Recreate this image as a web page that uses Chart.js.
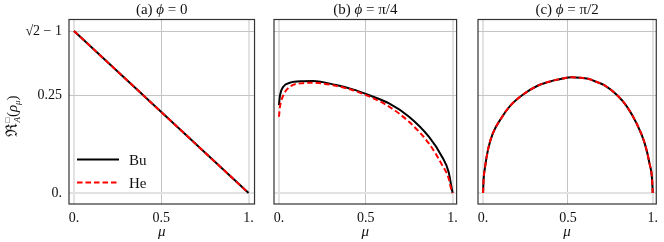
<!DOCTYPE html>
<html>
<head>
<meta charset="utf-8">
<script src="https://cdn.jsdelivr.net/npm/chart.js@4.4.1/dist/chart.umd.min.js"></script>
<style>
html, body { margin: 0; padding: 0; background: #fff; }
#wrap { position: relative; width: 664px; height: 242px; overflow: hidden; }
canvas { position: absolute; top: 0; }
</style>
</head>
<body>
<div id="wrap">
  <canvas id="panel_a" style="left:0px" width="260" height="242"></canvas>
  <canvas id="panel_b" style="left:260px" width="204" height="242"></canvas>
  <canvas id="panel_c" style="left:464px" width="200" height="242"></canvas>
</div>
<script>
// tick values and labels
const xTicks = [0, 0.5, 1];
const xTickLabels = ["0.", "0.5", "1."];
const yTicks = [0, 0.25, Math.SQRT2 - 1];
const yTickLabels = ["0.", "0.25", "\u221A2 \u2212 1"];

// (a) phi = 0
const muA = [0, 1];
const buA = [0.4142, 0];
const heA = [0.4142, 0];

// (b) phi = pi/4
const muB = [0, 0.006, 0.025, 0.063, 0.139, 0.196, 0.33, 0.425, 0.52, 0.634, 0.749, 0.863, 0.939, 0.977, 0.993, 1];
const buB = [0.225, 0.25, 0.272, 0.282, 0.286, 0.2865, 0.276, 0.265, 0.25, 0.229, 0.195, 0.144, 0.093, 0.054, 0.016, 0];
const heB = [0.195, 0.221, 0.25, 0.272, 0.281, 0.282, 0.274, 0.263, 0.247, 0.221, 0.182, 0.127, 0.072, 0.038, 0.008, 0];

// (c) phi = pi/2
const muC = [0, 0.003, 0.01, 0.03, 0.057, 0.105, 0.162, 0.23, 0.324, 0.419, 0.47, 0.52, 0.57, 0.619, 0.67, 0.714, 0.791, 0.848, 0.905, 0.953, 0.981, 0.997, 1];
const buC = [0, 0.035, 0.062, 0.113, 0.152, 0.19, 0.224, 0.25, 0.275, 0.288, 0.293, 0.296, 0.295, 0.292, 0.284, 0.276, 0.25, 0.221, 0.178, 0.127, 0.076, 0.03, 0];
const heC = buC.slice();

const serif = '"Liberation Serif", "DejaVu Serif", serif';

function pts(xs, ys) {
	return xs.map((x, i) => ({x: x, y: ys[i]}));
}

// draw a row of text pieces {t, size, italic, dy, stack}
// a piece with stack:true does not move the pen (for super/sub pairs)
function draw_parts(ctx, parts, x, y, align) {
	let w = 0;
	parts.forEach(p => {
		ctx.font = (p.italic ? 'italic ' : '') + p.size + 'px ' + serif;
		p.w = ctx.measureText(p.t).width;
		if (!p.stack) w += p.w;
	});
	let cx = align == 'center' ? x - w / 2 : x;
	ctx.textBaseline = 'alphabetic';
	ctx.textAlign = 'left';
	parts.forEach(p => {
		ctx.font = (p.italic ? 'italic ' : '') + p.size + 'px ' + serif;
		ctx.fillText(p.t, cx, y + (p.dy || 0));
		if (!p.stack) cx += p.w;
	});
}

const frame_plugin = {
	id: 'frame',
	afterDraw(chart, args, opts) {
		const a = chart.chartArea, ctx = chart.ctx;
		ctx.save();
		ctx.strokeStyle = '#333';
		ctx.lineWidth = 1.2;
		ctx.strokeRect(a.left, a.top, a.right - a.left, a.bottom - a.top);
		ctx.fillStyle = '#111';
		// panel title
		draw_parts(ctx, [
			{t: opts.label + ' ', size: 15},
			{t: '\u03D5', size: 15, italic: true},
			{t: ' = ' + opts.angle, size: 15}
		], (a.left + a.right) / 2, 14, 'center');
		// x axis title
		draw_parts(ctx, [{t: '\u03BC', size: 15, italic: true}], (a.left + a.right) / 2, 236, 'center');
		if (opts.legend) {
			ctx.lineWidth = 2;
			ctx.strokeStyle = '#000';
			ctx.beginPath(); ctx.moveTo(77, 159.5); ctx.lineTo(119, 159.5); ctx.stroke();
			ctx.strokeStyle = '#ff0000';
			ctx.setLineDash([5.5, 3]);
			ctx.beginPath(); ctx.moveTo(77, 182.5); ctx.lineTo(119, 182.5); ctx.stroke();
			ctx.setLineDash([]);
			draw_parts(ctx, [{t: 'Bu', size: 15}], 129, 164.5, 'left');
			draw_parts(ctx, [{t: 'He', size: 15}], 129, 187.5, 'left');
			// y axis title, rotated
			ctx.translate(17, 116);
			ctx.rotate(-Math.PI / 2);
			draw_parts(ctx, [
				{t: '\u211C', size: 16},
				{t: '\u25A1', size: 8, dy: -7, stack: true},
				{t: 'A', size: 9, italic: true, dy: 3},
				{t: '(', size: 15},
				{t: '\u03C1', size: 15, italic: true},
				{t: '\u03BC', size: 9, italic: true, dy: 3},
				{t: ')', size: 15}
			], 0, 0, 'center');
		}
		ctx.restore();
	}
};

function grid_color(ctx) {
	const v = ctx.tick ? ctx.tick.value : null;
	return (v === 0 || v === 1) ? '#e2e2e2' : '#c4c4c4';
}
function grid_width(ctx) {
	const v = ctx.tick ? ctx.tick.value : null;
	return (v === 0 || v === 1) ? 2 : 1;
}

function make_panel(id, mus, bu, he, cfg) {
	new Chart(document.getElementById(id), {
		type: 'scatter',
		data: {
			datasets: [
				{label: 'Bu', data: pts(mus, bu), showLine: true, borderColor: '#000', borderWidth: 2,
				 pointRadius: 0, cubicInterpolationMode: 'monotone', order: 2},
				{label: 'He', data: pts(mus, he), showLine: true, borderColor: '#ff0000', borderWidth: 2,
				 borderDash: [5.5, 3], pointRadius: 0, cubicInterpolationMode: 'monotone', order: 1}
			]
		},
		options: {
			responsive: false,
			animation: false,
			events: [],
			layout: {padding: {top: 19.5, right: cfg.padRight, left: 0, bottom: 0}},
			plugins: {
				legend: {display: false},
				tooltip: {enabled: false},
				frame: {label: cfg.label, angle: cfg.angle, legend: cfg.legend}
			},
			scales: {
				x: {
					type: 'linear', min: cfg.xmin, max: cfg.xmax,
					afterBuildTicks: s => { s.ticks = xTicks.map(v => ({value: v})); },
					afterFit: s => { s.height = 38; },
					grid: {color: grid_color, lineWidth: grid_width, drawTicks: false},
					border: {display: false},
					ticks: {
						padding: 6, color: '#111', font: {family: serif, size: 14},
						callback: (v, i) => xTickLabels[i]
					}
				},
				y: {
					type: 'linear', min: -0.028, max: 0.4437,
					afterBuildTicks: s => { s.ticks = yTicks.map(v => ({value: v})); },
					afterFit: s => { s.width = cfg.yWidth; },
					grid: {color: grid_color, lineWidth: grid_width, drawTicks: false},
					border: {display: false},
					ticks: {
						display: cfg.legend, padding: 7, color: '#111', font: {family: serif, size: 14},
						callback: (v, i) => yTickLabels[i]
					}
				}
			}
		},
		plugins: [frame_plugin]
	});
}

make_panel('panel_a', muA, buA, heA, {label: '(a)', angle: '0', legend: true, yWidth: 69, padRight: 5, xmin: -0.0286, xmax: 1.034});
make_panel('panel_b', muB, buB, heB, {label: '(b)', angle: '\u03C0/4', legend: false, yWidth: 14, padRight: 6, xmin: -0.0286, xmax: 1.023});
make_panel('panel_c', muC, buC, heC, {label: '(c)', angle: '\u03C0/2', legend: false, yWidth: 14, padRight: 2, xmin: -0.03, xmax: 1.021});
</script>
</body>
</html>
